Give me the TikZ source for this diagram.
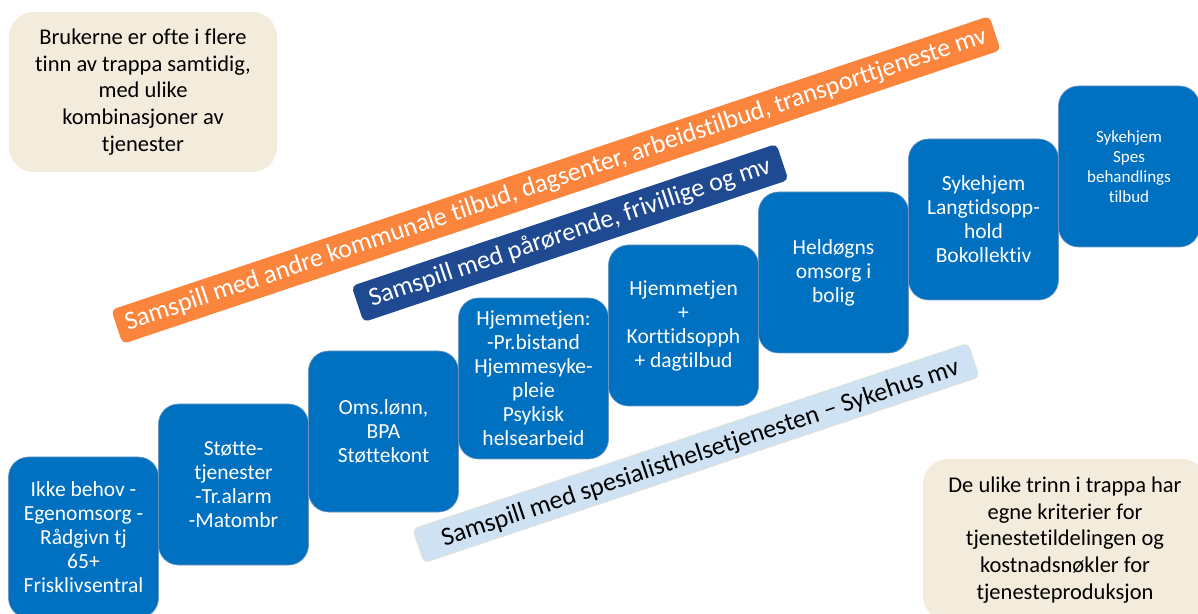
\documentclass[tikz,border=0pt]{standalone}
\usepackage{fontspec}
\setmainfont{Carlito}[Ligatures=NoCommon]
\usetikzlibrary{positioning}
\definecolor{stepblue}{RGB}{0,112,192}
\definecolor{stepedge}{RGB}{110,150,190}
\definecolor{bandorange}{RGB}{252,133,62}
\definecolor{banddark}{RGB}{31,74,145}
\definecolor{bandlight}{RGB}{207,226,243}
\definecolor{bandlightedge}{RGB}{236,226,200}
\definecolor{notebeige}{RGB}{243,236,221}
\begin{document}
\begin{tikzpicture}[x=1pt, y=1pt, node distance=150pt,
    stepbox/.style={draw=stepedge, line width=0.6pt, fill=stepblue, text=white,
      rounded corners=20pt, minimum width=150pt, minimum height=161pt,
      align=center, font=\fontsize{21.5}{24}\selectfont},
    band/.style={rounded corners=5pt, rotate=18.5, minimum height=36pt,
      inner sep=0pt, font=\fontsize{26}{30}\selectfont},
    note/.style={fill=notebeige, rounded corners=25pt, align=center,
      font=\fontsize{22.5}{26.7}\selectfont}]
  \useasboundingbox (0,0) rectangle (1198,613);

  \node[note, minimum width=268pt, minimum height=160pt] (n1) at (143,521)
    {Brukerne er ofte i flere\\tinn av trappa samtidig,\\med ulike\\kombinasjoner av\\tjenester};
  \node[note, minimum width=284pt, minimum height=162pt] (n2) at (1065,73)
    {De ulike trinn i trappa har\\egne kriterier for\\tjenestetildelingen og\\kostnadsnøkler for\\tjenesteproduksjon};

  \node[stepbox] (s1) at (83.5,75.5) {Ikke behov -\\Egenomsorg -\\Rådgivn tj\\65+\\Frisklivsentral};
  \node[stepbox, right of=s1, yshift=53pt] (s2) {Støtte-\\tjenester\\-Tr.alarm\\-Matombr};
  \node[stepbox, right of=s2, yshift=53pt] (s3) {Oms.lønn,\\BPA\\Støttekont};
  \node[stepbox, right of=s3, yshift=53pt] (s4) {Hjemmetjen:\\-Pr.bistand\\Hjemmesyke-\\pleie\\Psykisk\\helsearbeid};
  \node[stepbox, right of=s4, yshift=53pt] (s5) {Hjemmetjen\\+\\Korttidsopph\\+ dagtilbud};
  \node[stepbox, right of=s5, yshift=53pt] (s6) {Heldøgns\\omsorg i\\bolig};
  \node[stepbox, right of=s6, yshift=53pt] (s7) {Sykehjem\\Langtidsopp-\\hold\\Bokollektiv};
  \node[stepbox, right of=s7, yshift=53pt, xshift=-4.5pt, minimum width=141pt,
    font=\fontsize{17}{20}\selectfont] (s8) {Sykehjem\\Spes\\behandlings\\tilbud};

  \node[band, fill=bandorange, text=white, minimum width=926pt] (b1) at (556,433)
    {Samspill med andre kommunale tilbud, dagsenter, arbeidstilbud, transporttjeneste mv};
  \node[band, fill=banddark, text=white, minimum width=448pt, minimum height=38pt] (b2) at (570,380)
    {Samspill med pårørende, frivillige og mv};
  \node[band, draw=bandlightedge, fill=bandlight, text=black, minimum width=586pt,
    text depth=0pt] (b3) at (696,160)
    {\hspace*{8pt}Samspill med spesialisthelsetjenesten – Sykehus mv};
\end{tikzpicture}
\end{document}
